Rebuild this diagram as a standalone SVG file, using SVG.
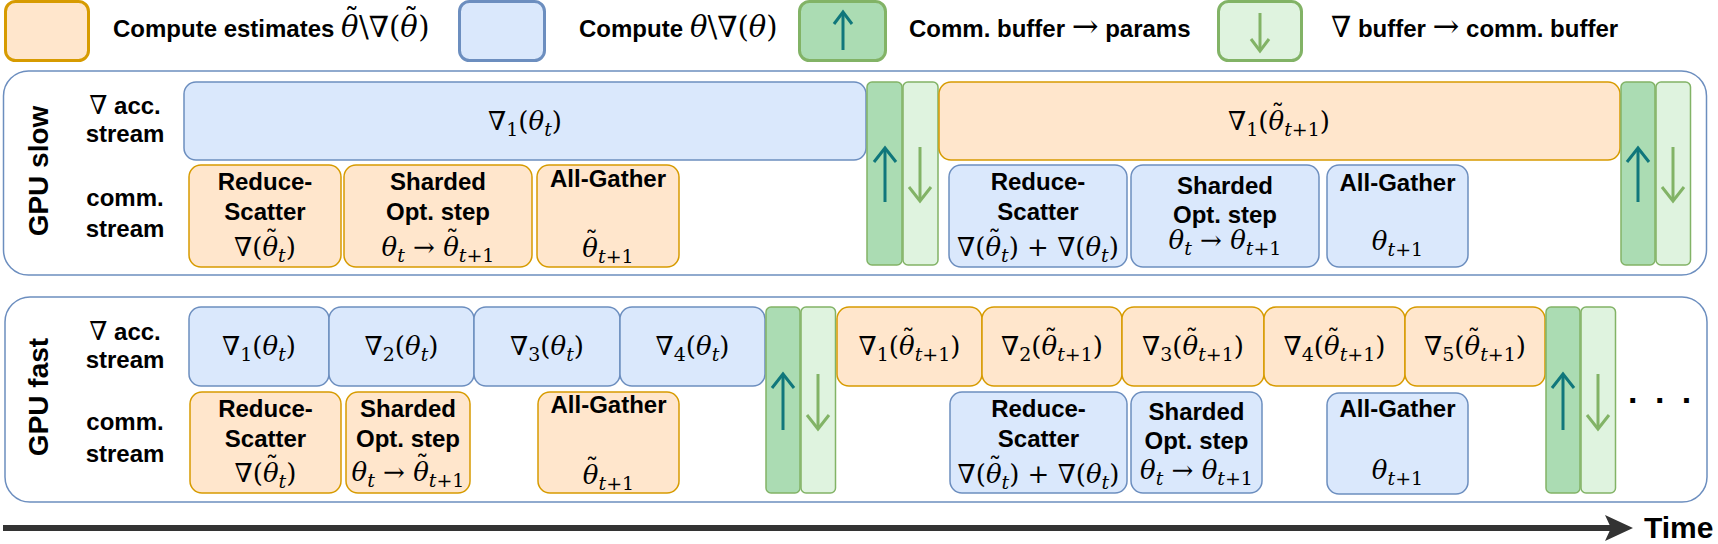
<svg xmlns="http://www.w3.org/2000/svg" width="1718" height="544" viewBox="0 0 1718 544">
<style>
.lbl{font-family:"Liberation Sans",Arial,sans-serif;font-weight:bold;font-size:24px;fill:#000}
.big{font-size:28px}
.m{font-family:"DejaVu Serif","Liberation Serif",serif;font-size:26px;font-weight:normal;fill:#000}
.lm{font-size:29px}
.ar{font-family:"DejaVu Serif","Liberation Serif",serif;font-weight:normal;font-size:32px}
.i{font-style:italic}
.tl{font-style:normal}
.s{font-size:19px}
.or{fill:#ffe6cc;stroke:#d79b00;stroke-width:1.5}
.bl{fill:#dae8fc;stroke:#6c8ebf;stroke-width:1.5}
.gd{fill:#abdcb3;stroke:#82b366;stroke-width:1.5}
.gl{fill:#dff3df;stroke:#82b366;stroke-width:1.5}
.leg{stroke-width:3}
.panel{fill:#fff;stroke:#6c8ebf;stroke-width:1.5}
.up{stroke:#10777b;stroke-width:3;fill:none}
.dn{stroke:#82b366;stroke-width:3;fill:none}
</style>

<!-- Legend -->
<g id="legend">
  <g id="leg-estimates">
    <rect class="or leg" x="5.5" y="1.5" width="83" height="59" rx="10"/>
    <text class="lbl" x="113" y="37">Compute estimates <tspan class="m lm" x="341"><tspan class="i">θ</tspan><tspan class="tl" dx="-14" dy="-8">˜</tspan><tspan dy="8">\∇(</tspan><tspan class="i">θ</tspan><tspan class="tl" dx="-14" dy="-8">˜</tspan><tspan dy="8">)</tspan></tspan></text>
  </g>
  <g id="leg-compute">
    <rect class="bl leg" x="459.5" y="1.5" width="85" height="59" rx="10"/>
    <text class="lbl" x="579" y="37">Compute <tspan class="m lm" x="690"><tspan class="i">θ</tspan>\∇(<tspan class="i">θ</tspan>)</tspan></text>
  </g>
  <g id="leg-up">
    <rect class="gd leg" x="799.5" y="1.5" width="86" height="59" rx="10"/>
    <line class="up" x1="843" y1="50" x2="843" y2="13"/>
    <polyline class="up" points="834,24 843,12 852,24"/>
    <text class="lbl" x="909" y="37">Comm. buffer <tspan class="ar">→</tspan> params</text>
  </g>
  <g id="leg-down">
    <rect class="gl leg" x="1218.5" y="1.5" width="83" height="59" rx="10"/>
    <line class="dn" x1="1260" y1="13" x2="1260" y2="50"/>
    <polyline class="dn" points="1251,39 1260,51 1269,39"/>
    <text class="lbl" x="1331" y="37"><tspan class="m lm">∇</tspan> buffer <tspan class="ar">→</tspan> comm. buffer</text>
  </g>
</g>

<!-- GPU slow panel -->
<g id="gpu-slow">
  <rect class="panel" x="3.5" y="71" width="1703" height="204" rx="25"/>
  <text class="lbl big" transform="translate(48,171) rotate(-90)" text-anchor="middle">GPU slow</text>
  <text class="lbl" x="125" y="114" text-anchor="middle"><tspan class="m">∇</tspan> acc.</text>
  <text class="lbl" x="125" y="142" text-anchor="middle">stream</text>
  <text class="lbl" x="125" y="206" text-anchor="middle">comm.</text>
  <text class="lbl" x="125" y="237" text-anchor="middle">stream</text>
</g>
<g id="slow-acc-1">
  <rect class="bl" x="184" y="82" width="682" height="78" rx="12"/>
  <text class="m" x="525" y="130" text-anchor="middle">∇<tspan class="s" dy="6">1</tspan><tspan dy="-6">(</tspan><tspan class="i">θ</tspan><tspan class="s i" dy="6">t</tspan><tspan dy="-6">)</tspan></text>
</g>
<g id="slow-up-1">
  <rect class="gd" x="867" y="82" width="35" height="183" rx="5"/>
  <line class="up" x1="885" y1="202" x2="885" y2="149"/>
  <polyline class="up" points="874,162 885,148 896,162"/>
</g>
<g id="slow-down-1">
  <rect class="gl" x="903" y="82" width="35" height="183" rx="5"/>
  <line class="dn" x1="920" y1="147" x2="920" y2="200"/>
  <polyline class="dn" points="909,187 920,201 931,187"/>
</g>
<g id="slow-acc-2">
  <rect class="or" x="939" y="82" width="681" height="78" rx="12"/>
  <text class="m" x="1279" y="130" text-anchor="middle">∇<tspan class="s" dy="6">1</tspan><tspan dy="-6">(</tspan><tspan class="i">θ</tspan><tspan class="tl" dx="-13" dy="-7">˜</tspan><tspan class="s" dy="13"><tspan class="i">t</tspan>+1</tspan><tspan dy="-6">)</tspan></text>
</g>
<g id="slow-up-2">
  <rect class="gd" x="1621" y="82" width="34" height="183" rx="5"/>
  <line class="up" x1="1638" y1="202" x2="1638" y2="149"/>
  <polyline class="up" points="1627,162 1638,148 1649,162"/>
</g>
<g id="slow-down-2">
  <rect class="gl" x="1656" y="82" width="34.5" height="183" rx="5"/>
  <line class="dn" x1="1673" y1="147" x2="1673" y2="200"/>
  <polyline class="dn" points="1662,187 1673,201 1684,187"/>
</g>
<g id="slow-rs-1">
  <rect class="or" x="189" y="165" width="152" height="102" rx="12"/>
  <text class="lbl" x="265" y="190" text-anchor="middle">Reduce-</text>
  <text class="lbl" x="265" y="220" text-anchor="middle">Scatter</text>
  <text class="m" x="265" y="256" text-anchor="middle">∇(<tspan class="i">θ</tspan><tspan class="tl" dx="-13" dy="-7">˜</tspan><tspan class="s i" dy="13">t</tspan><tspan dy="-6">)</tspan></text>
</g>
<g id="slow-opt-1">
  <rect class="or" x="344" y="165" width="188" height="102" rx="12"/>
  <text class="lbl" x="438" y="190" text-anchor="middle">Sharded</text>
  <text class="lbl" x="438" y="220" text-anchor="middle">Opt. step</text>
  <text class="m" x="438" y="256" text-anchor="middle"><tspan class="i">θ</tspan><tspan class="s i" dy="6">t</tspan><tspan dy="-6"> → </tspan><tspan class="i">θ</tspan><tspan class="tl" dx="-13" dy="-7">˜</tspan><tspan class="s" dy="13"><tspan class="i">t</tspan>+1</tspan></text>
</g>
<g id="slow-ag-1">
  <rect class="or" x="537" y="165" width="142" height="102" rx="12"/>
  <text class="lbl" x="608" y="187" text-anchor="middle">All-Gather</text>
  <text class="m" x="608" y="257" text-anchor="middle"><tspan class="i">θ</tspan><tspan class="tl" dx="-13" dy="-7">˜</tspan><tspan class="s" dy="13"><tspan class="i">t</tspan>+1</tspan></text>
</g>
<g id="slow-rs-2">
  <rect class="bl" x="949" y="165" width="178" height="102" rx="12"/>
  <text class="lbl" x="1038" y="190" text-anchor="middle">Reduce-</text>
  <text class="lbl" x="1038" y="220" text-anchor="middle">Scatter</text>
  <text class="m" x="1038" y="256" text-anchor="middle">∇(<tspan class="i">θ</tspan><tspan class="tl" dx="-13" dy="-7">˜</tspan><tspan class="s i" dy="13">t</tspan><tspan dy="-6">) + ∇(</tspan><tspan class="i">θ</tspan><tspan class="s i" dy="6">t</tspan><tspan dy="-6">)</tspan></text>
</g>
<g id="slow-opt-2">
  <rect class="bl" x="1131" y="165" width="188" height="102" rx="12"/>
  <text class="lbl" x="1225" y="194" text-anchor="middle">Sharded</text>
  <text class="lbl" x="1225" y="223" text-anchor="middle">Opt. step</text>
  <text class="m" x="1225" y="249" text-anchor="middle"><tspan class="i">θ</tspan><tspan class="s i" dy="6">t</tspan><tspan dy="-6"> → </tspan><tspan class="i">θ</tspan><tspan class="s" dy="6"><tspan class="i">t</tspan>+1</tspan></text>
</g>
<g id="slow-ag-2">
  <rect class="bl" x="1327" y="165" width="141" height="102" rx="12"/>
  <text class="lbl" x="1397.5" y="191" text-anchor="middle">All-Gather</text>
  <text class="m" x="1397.5" y="250" text-anchor="middle"><tspan class="i">θ</tspan><tspan class="s" dy="6"><tspan class="i">t</tspan>+1</tspan></text>
</g>

<!-- GPU fast panel -->
<g id="gpu-fast">
  <rect class="panel" x="5" y="297" width="1702" height="205" rx="25"/>
  <text class="lbl big" transform="translate(48,397) rotate(-90)" text-anchor="middle">GPU fast</text>
  <text class="lbl" x="125" y="340" text-anchor="middle"><tspan class="m">∇</tspan> acc.</text>
  <text class="lbl" x="125" y="368" text-anchor="middle">stream</text>
  <text class="lbl" x="125" y="430" text-anchor="middle">comm.</text>
  <text class="lbl" x="125" y="462" text-anchor="middle">stream</text>
</g>
<g id="fast-acc-b1">
  <rect class="bl" x="189" y="307" width="140" height="79" rx="12"/>
  <text class="m" x="259" y="355" text-anchor="middle">∇<tspan class="s" dy="6">1</tspan><tspan dy="-6">(</tspan><tspan class="i">θ</tspan><tspan class="s i" dy="6">t</tspan><tspan dy="-6">)</tspan></text>
</g>
<g id="fast-acc-b2">
  <rect class="bl" x="329" y="307" width="145" height="79" rx="12"/>
  <text class="m" x="401.5" y="355" text-anchor="middle">∇<tspan class="s" dy="6">2</tspan><tspan dy="-6">(</tspan><tspan class="i">θ</tspan><tspan class="s i" dy="6">t</tspan><tspan dy="-6">)</tspan></text>
</g>
<g id="fast-acc-b3">
  <rect class="bl" x="474" y="307" width="146" height="79" rx="12"/>
  <text class="m" x="547" y="355" text-anchor="middle">∇<tspan class="s" dy="6">3</tspan><tspan dy="-6">(</tspan><tspan class="i">θ</tspan><tspan class="s i" dy="6">t</tspan><tspan dy="-6">)</tspan></text>
</g>
<g id="fast-acc-b4">
  <rect class="bl" x="620" y="307" width="145" height="79" rx="12"/>
  <text class="m" x="692.5" y="355" text-anchor="middle">∇<tspan class="s" dy="6">4</tspan><tspan dy="-6">(</tspan><tspan class="i">θ</tspan><tspan class="s i" dy="6">t</tspan><tspan dy="-6">)</tspan></text>
</g>
<g id="fast-up-1">
  <rect class="gd" x="766" y="307" width="34" height="186" rx="5"/>
  <line class="up" x1="783" y1="430" x2="783" y2="375"/>
  <polyline class="up" points="772,388 783,374 794,388"/>
</g>
<g id="fast-down-1">
  <rect class="gl" x="801" y="307" width="34.5" height="186" rx="5"/>
  <line class="dn" x1="818" y1="374" x2="818" y2="428"/>
  <polyline class="dn" points="807,415 818,429 829,415"/>
</g>
<g id="fast-acc-o1">
  <rect class="or" x="837" y="307" width="145" height="79" rx="12"/>
  <text class="m" x="909.5" y="355" text-anchor="middle">∇<tspan class="s" dy="6">1</tspan><tspan dy="-6">(</tspan><tspan class="i">θ</tspan><tspan class="tl" dx="-13" dy="-7">˜</tspan><tspan class="s" dy="13"><tspan class="i">t</tspan>+1</tspan><tspan dy="-6">)</tspan></text>
</g>
<g id="fast-acc-o2">
  <rect class="or" x="982" y="307" width="140" height="79" rx="12"/>
  <text class="m" x="1052" y="355" text-anchor="middle">∇<tspan class="s" dy="6">2</tspan><tspan dy="-6">(</tspan><tspan class="i">θ</tspan><tspan class="tl" dx="-13" dy="-7">˜</tspan><tspan class="s" dy="13"><tspan class="i">t</tspan>+1</tspan><tspan dy="-6">)</tspan></text>
</g>
<g id="fast-acc-o3">
  <rect class="or" x="1122" y="307" width="142" height="79" rx="12"/>
  <text class="m" x="1193" y="355" text-anchor="middle">∇<tspan class="s" dy="6">3</tspan><tspan dy="-6">(</tspan><tspan class="i">θ</tspan><tspan class="tl" dx="-13" dy="-7">˜</tspan><tspan class="s" dy="13"><tspan class="i">t</tspan>+1</tspan><tspan dy="-6">)</tspan></text>
</g>
<g id="fast-acc-o4">
  <rect class="or" x="1264" y="307" width="141" height="79" rx="12"/>
  <text class="m" x="1334.5" y="355" text-anchor="middle">∇<tspan class="s" dy="6">4</tspan><tspan dy="-6">(</tspan><tspan class="i">θ</tspan><tspan class="tl" dx="-13" dy="-7">˜</tspan><tspan class="s" dy="13"><tspan class="i">t</tspan>+1</tspan><tspan dy="-6">)</tspan></text>
</g>
<g id="fast-acc-o5">
  <rect class="or" x="1405" y="307" width="140" height="79" rx="12"/>
  <text class="m" x="1475" y="355" text-anchor="middle">∇<tspan class="s" dy="6">5</tspan><tspan dy="-6">(</tspan><tspan class="i">θ</tspan><tspan class="tl" dx="-13" dy="-7">˜</tspan><tspan class="s" dy="13"><tspan class="i">t</tspan>+1</tspan><tspan dy="-6">)</tspan></text>
</g>
<g id="fast-up-2">
  <rect class="gd" x="1546" y="307" width="34" height="186" rx="5"/>
  <line class="up" x1="1563" y1="430" x2="1563" y2="375"/>
  <polyline class="up" points="1552,388 1563,374 1574,388"/>
</g>
<g id="fast-down-2">
  <rect class="gl" x="1581" y="307" width="34.5" height="186" rx="5"/>
  <line class="dn" x1="1598" y1="374" x2="1598" y2="428"/>
  <polyline class="dn" points="1587,415 1598,429 1609,415"/>
</g>
<g id="fast-rs-1">
  <rect class="or" x="190" y="392" width="151" height="101" rx="12"/>
  <text class="lbl" x="265.5" y="417" text-anchor="middle">Reduce-</text>
  <text class="lbl" x="265.5" y="447" text-anchor="middle">Scatter</text>
  <text class="m" x="265.5" y="482" text-anchor="middle">∇(<tspan class="i">θ</tspan><tspan class="tl" dx="-13" dy="-7">˜</tspan><tspan class="s i" dy="13">t</tspan><tspan dy="-6">)</tspan></text>
</g>
<g id="fast-opt-1">
  <rect class="or" x="346" y="392" width="124" height="101" rx="12"/>
  <text class="lbl" x="408" y="417" text-anchor="middle">Sharded</text>
  <text class="lbl" x="408" y="447" text-anchor="middle">Opt. step</text>
  <text class="m" x="408" y="481" text-anchor="middle"><tspan class="i">θ</tspan><tspan class="s i" dy="6">t</tspan><tspan dy="-6"> → </tspan><tspan class="i">θ</tspan><tspan class="tl" dx="-13" dy="-7">˜</tspan><tspan class="s" dy="13"><tspan class="i">t</tspan>+1</tspan></text>
</g>
<g id="fast-ag-1">
  <rect class="or" x="538" y="392" width="141" height="101" rx="12"/>
  <text class="lbl" x="608.5" y="413" text-anchor="middle">All-Gather</text>
  <text class="m" x="608.5" y="484" text-anchor="middle"><tspan class="i">θ</tspan><tspan class="tl" dx="-13" dy="-7">˜</tspan><tspan class="s" dy="13"><tspan class="i">t</tspan>+1</tspan></text>
</g>
<g id="fast-rs-2">
  <rect class="bl" x="950" y="392" width="177" height="101" rx="12"/>
  <text class="lbl" x="1038.5" y="417" text-anchor="middle">Reduce-</text>
  <text class="lbl" x="1038.5" y="447" text-anchor="middle">Scatter</text>
  <text class="m" x="1038.5" y="483" text-anchor="middle">∇(<tspan class="i">θ</tspan><tspan class="tl" dx="-13" dy="-7">˜</tspan><tspan class="s i" dy="13">t</tspan><tspan dy="-6">) + ∇(</tspan><tspan class="i">θ</tspan><tspan class="s i" dy="6">t</tspan><tspan dy="-6">)</tspan></text>
</g>
<g id="fast-opt-2">
  <rect class="bl" x="1131" y="392" width="131" height="101" rx="12"/>
  <text class="lbl" x="1196.5" y="420" text-anchor="middle">Sharded</text>
  <text class="lbl" x="1196.5" y="449" text-anchor="middle">Opt. step</text>
  <text class="m" x="1196.5" y="479" text-anchor="middle"><tspan class="i">θ</tspan><tspan class="s i" dy="6">t</tspan><tspan dy="-6"> → </tspan><tspan class="i">θ</tspan><tspan class="s" dy="6"><tspan class="i">t</tspan>+1</tspan></text>
</g>
<g id="fast-ag-2">
  <rect class="bl" x="1327" y="393" width="141" height="101" rx="12"/>
  <text class="lbl" x="1397.5" y="417" text-anchor="middle">All-Gather</text>
  <text class="m" x="1397.5" y="479" text-anchor="middle"><tspan class="i">θ</tspan><tspan class="s" dy="6"><tspan class="i">t</tspan>+1</tspan></text>
</g>
<g id="ellipsis">
  <text class="lbl" x="1628" y="403" style="font-size:34px;letter-spacing:4px">. . .</text>
</g>

<!-- Connectors -->
<g id="connectors">
  <line x1="3" y1="528" x2="1612" y2="528" stroke="#333333" stroke-width="6"/>
  <path d="M1633,528 L1605,515 L1611,528 L1605,541 Z" fill="#333333"/>
</g>
<g id="time-label">
  <text class="lbl" x="1644" y="538" style="font-size:30px">Time</text>
</g>
</svg>
